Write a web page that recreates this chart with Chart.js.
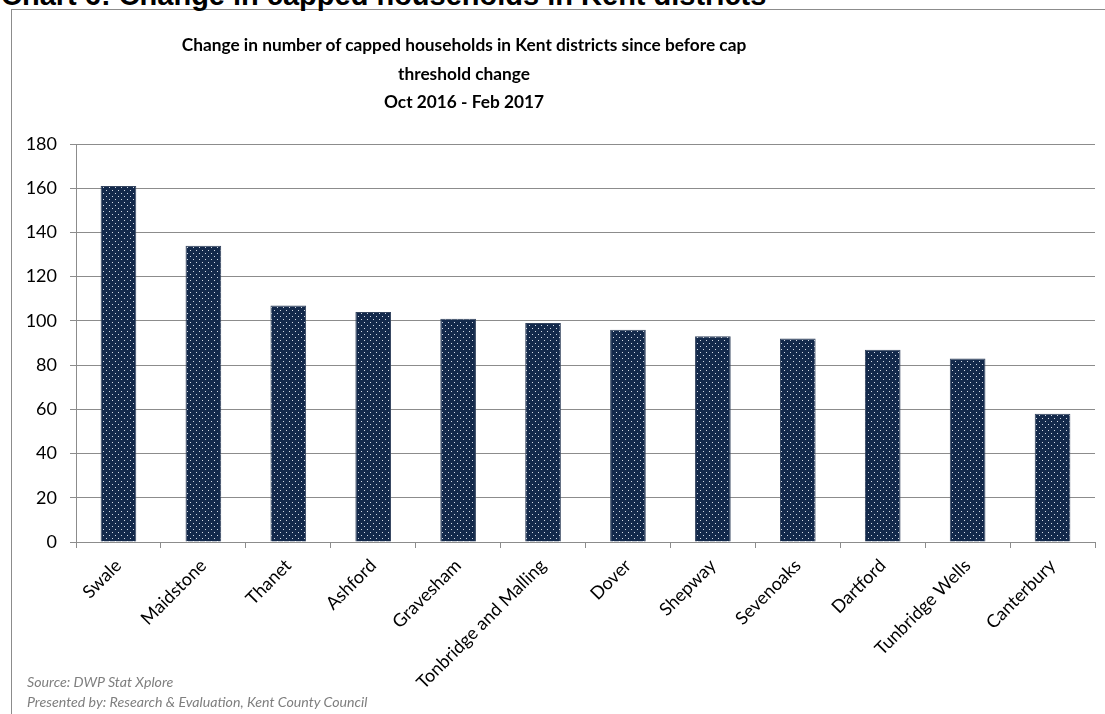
<!DOCTYPE html>
<html>
<head>
<meta charset="utf-8">
<script src="https://cdn.jsdelivr.net/npm/chart.js@4.4.1/dist/chart.umd.min.js"></script>
<style>
    body { margin: 0; background: #fff; overflow: hidden; }
    #wrap { position: relative; width: 1105px; height: 714px; font-family: Lato, "Open Sans", sans-serif; }
    .frame { position: absolute; left: 11px; top: 9px; width: 1100px; height: 720px; border: 1px solid #8c8c8c; box-sizing: border-box; }
    .head { position: absolute; left: 1px; top: -19px; font-family: "Liberation Sans", Arial, sans-serif; font-size: 29px; line-height: 29px; font-weight: bold; color: #000; white-space: nowrap; }
    .title { position: absolute; left: 114px; top: 31px; width: 700px; text-align: center; font-size: 17.3px; font-weight: bold; line-height: 28.5px; color: #000; }
    .source { position: absolute; left: 27px; top: 672px; font-size: 14.2px; font-style: italic; color: #7f7f7f; line-height: 20px; }
    canvas { position: absolute; left: 0; top: 0; }
</style>
</head>
<body>
<div id="wrap">
    <div class="frame"></div>
    <div class="head">Chart 6: Change in capped households in Kent districts</div>
    <canvas id="capChart" width="1105" height="714"></canvas>
    <div class="title">Change in number of capped households in Kent districts since before cap<br>threshold change<br>Oct 2016 - Feb 2017</div>
    <div class="source">Source: DWP Stat Xplore<br>Presented by: Research &amp; Evaluation, Kent County Council</div>
</div>
<script>
// Districts and change in capped households
const districts = ['Swale', 'Maidstone', 'Thanet', 'Ashford', 'Gravesham', 'Tonbridge and Malling',
    'Dover', 'Shepway', 'Sevenoaks', 'Dartford', 'Tunbridge Wells', 'Canterbury'];
const cappedChange = [161, 134, 107, 104, 101, 99, 96, 93, 92, 87, 83, 58];
const yTicks = [0, 20, 40, 60, 80, 100, 120, 140, 160, 180];

// Dotted navy fill for the bars
function makeDotPattern() {
    const tile = document.createElement('canvas');
    tile.width = 6;
    tile.height = 6;
    const t = tile.getContext('2d');
    t.fillStyle = '#13294b';
    t.fillRect(0, 0, 6, 6);
    t.fillStyle = '#d4dbe5';
    t.fillRect(1, 1, 1, 1);
    t.fillRect(4, 4, 1, 1);
    return t.createPattern(tile, 'repeat');
}

const axisColor = '#8c8c8c';
const ctx = document.getElementById('capChart').getContext('2d');

new Chart(ctx, {
    type: 'bar',
    data: {
        labels: districts,
        datasets: [{
            data: cappedChange,
            backgroundColor: makeDotPattern(),
            borderColor: '#34445e',
            borderWidth: 1,
            categoryPercentage: 1,
            barPercentage: 0.42
        }]
    },
    options: {
        responsive: false,
        animation: false,
        layout: { padding: { top: 144, right: 10, left: 0, bottom: 0 } },
        plugins: {
            legend: { display: false },
            tooltip: { enabled: false }
        },
        scales: {
            x: {
                grid: { display: true, drawOnChartArea: false, drawTicks: true, tickLength: 6, color: axisColor },
                border: { color: axisColor, width: 1 },
                ticks: {
                    color: '#000',
                    font: { family: 'Lato', size: 18 },
                    minRotation: 45,
                    maxRotation: 45,
                    autoSkip: false,
                    padding: 7
                },
                afterFit: scale => { scale.height = 172; }
            },
            y: {
                min: 0,
                max: 180,
                afterBuildTicks: scale => { scale.ticks = yTicks.map(v => ({ value: v })); },
                grid: { color: axisColor, tickLength: 6 },
                border: { color: axisColor, width: 1 },
                ticks: {
                    color: '#000',
                    font: { family: 'Lato', size: 18 },
                    padding: 13
                },
                afterFit: scale => { scale.width = 76; }
            }
        }
    }
});
</script>
</body>
</html>
